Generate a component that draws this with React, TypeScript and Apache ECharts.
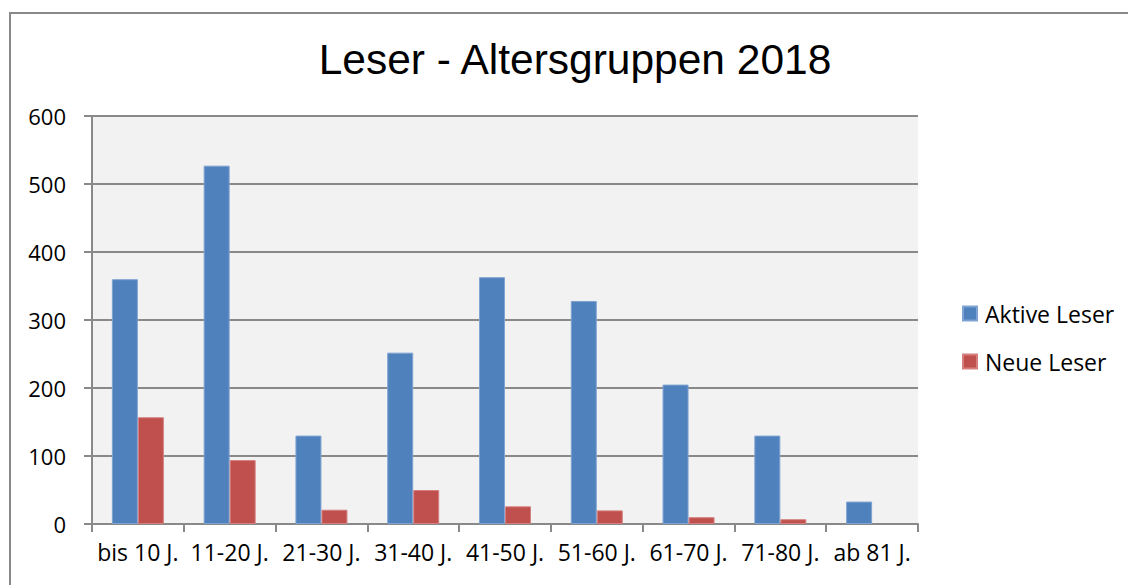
import React, { useEffect, useRef } from "react";
import * as echarts from "echarts";

const categories = ["bis 10 J.", "11-20 J.", "21-30 J.", "31-40 J.", "41-50 J.", "51-60 J.", "61-70 J.", "71-80 J.", "ab 81 J."];
const aktiveLeser = [360, 527, 130, 252, 363, 328, 205, 130, 33];
const neueLeser = [157, 94, 21, 50, 26, 20, 10, 7, 0];
const seriesNames = ["Aktive Leser", "Neue Leser"];
const titleText = "Leser - Altersgruppen 2018";

export default function App() {
  const ref = useRef<HTMLDivElement>(null);
  useEffect(() => {
    if (!ref.current) return;
    const chart = echarts.init(ref.current, undefined, { renderer: "svg" });
    const font = "'Open Sans', 'Noto Sans', sans-serif";
    const toData = (arr: number[]) =>
      arr.map((v) => (v === 0 ? { value: v, itemStyle: { borderWidth: 0 } } : v));
    chart.setOption({
      animation: false,
      backgroundColor: "#ffffff",
      title: {
        text: titleText,
        left: 570,
        top: 33,
        textAlign: "center",
        textStyle: { fontFamily: "'Liberation Sans', Arial, sans-serif", fontSize: 42.5, fontWeight: "normal", color: "#000" },
      },
      legend: {
        orient: "vertical",
        left: 962,
        top: 302,
        padding: 0,
        itemWidth: 14,
        itemHeight: 14,
        itemGap: 25,
        icon: "rect",
        data: seriesNames,
        textStyle: { fontFamily: font, fontSize: 23, color: "#000", padding: [0, 0, 0, 3] },
      },
      graphic: [
        {
          type: "rect",
          shape: { x: 10, y: 13, width: 1300, height: 800 },
          style: { fill: "none", stroke: "#898989", lineWidth: 2 },
          silent: true,
          z: 100,
        },
      ],
      grid: {
        left: 92,
        right: 210,
        top: 116,
        bottom: 61,
        show: true,
        backgroundColor: "#f2f2f2",
        borderWidth: 0,
        containLabel: false,
      },
      xAxis: {
        type: "category",
        data: categories,
        axisLine: { show: true, lineStyle: { color: "#898989", width: 2 } },
        axisTick: { show: true, length: 8, lineStyle: { color: "#898989", width: 2 } },
        axisLabel: { fontFamily: font, fontSize: 23, color: "#000", margin: 16, interval: 0 },
        splitLine: { show: false },
      },
      yAxis: {
        type: "value",
        min: 0,
        max: 600,
        interval: 100,
        axisLine: { show: true, lineStyle: { color: "#898989", width: 2 } },
        axisTick: { show: true, length: 8, lineStyle: { color: "#898989", width: 2 } },
        axisLabel: { fontFamily: font, fontSize: 22, color: "#000", margin: 26 },
        splitLine: { show: true, lineStyle: { color: "#898989", width: 2 } },
      },
      series: [
        {
          name: seriesNames[0],
          type: "bar",
          data: toData(aktiveLeser),
          barWidth: 26,
          barGap: "0%",
          itemStyle: { color: "#4f81bd", borderColor: "#7fa3d2", borderWidth: 1 },
        },
        {
          name: seriesNames[1],
          type: "bar",
          data: toData(neueLeser),
          barWidth: 26,
          barGap: "0%",
          itemStyle: { color: "#c0504d", borderColor: "#d5807e", borderWidth: 1 },
        },
      ],
    });
    return () => chart.dispose();
  }, []);
  return (
    <div
      ref={ref}
      style={{ position: "absolute", left: 0, top: 0, width: 1128, height: 585 }}
    />
  );
}
